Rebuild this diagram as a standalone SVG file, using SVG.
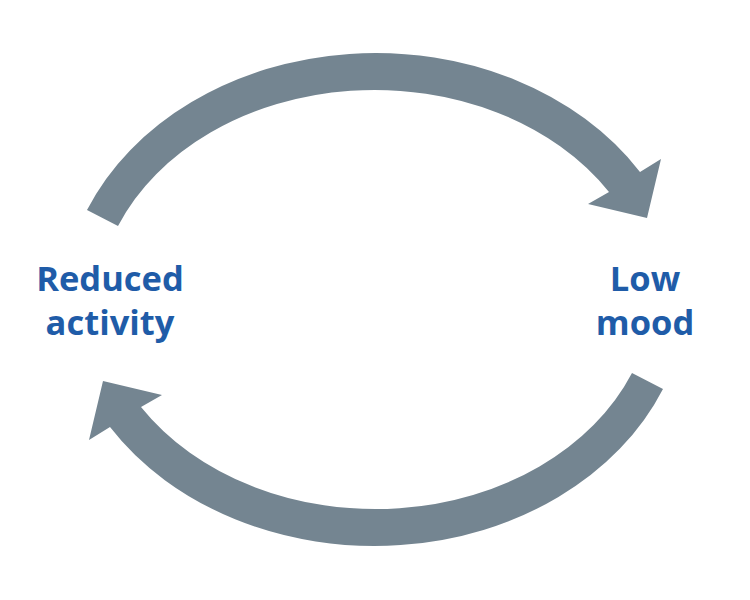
<svg xmlns="http://www.w3.org/2000/svg" xmlns:xlink="http://www.w3.org/1999/xlink" width="750" height="600" viewBox="0 0 750 600">
<style>
.arrow{fill:#748591;stroke:none}
.lbl{font-family:"Open Sans","Liberation Sans",sans-serif;font-weight:bold;font-size:34.5px;fill:#1f5ca8;text-anchor:middle}
</style>
<rect width="750" height="600" fill="#ffffff"/>
<g id="connectors">
<path id="arc-top" class="arrow" d="M 87 210 A 313 256 0 0 1 640 172 L 661 159 L 647 218 L 588 204 L 609 192 A 278 221 0 0 0 118 226 Z"/>
<path id="arc-bottom" class="arrow" d="M 87 210 A 313 256 0 0 1 640 172 L 661 159 L 647 218 L 588 204 L 609 192 A 278 221 0 0 0 118 226 Z" transform="rotate(180 375 299.5)"/>
</g>
<g id="node-reduced-activity">
<text class="lbl" x="110" y="291">Reduced</text>
<text class="lbl" x="110" y="335">activity</text>
</g>
<g id="node-low-mood">
<text class="lbl" x="645" y="291">Low</text>
<text class="lbl" x="645" y="335">mood</text>
</g>
</svg>
